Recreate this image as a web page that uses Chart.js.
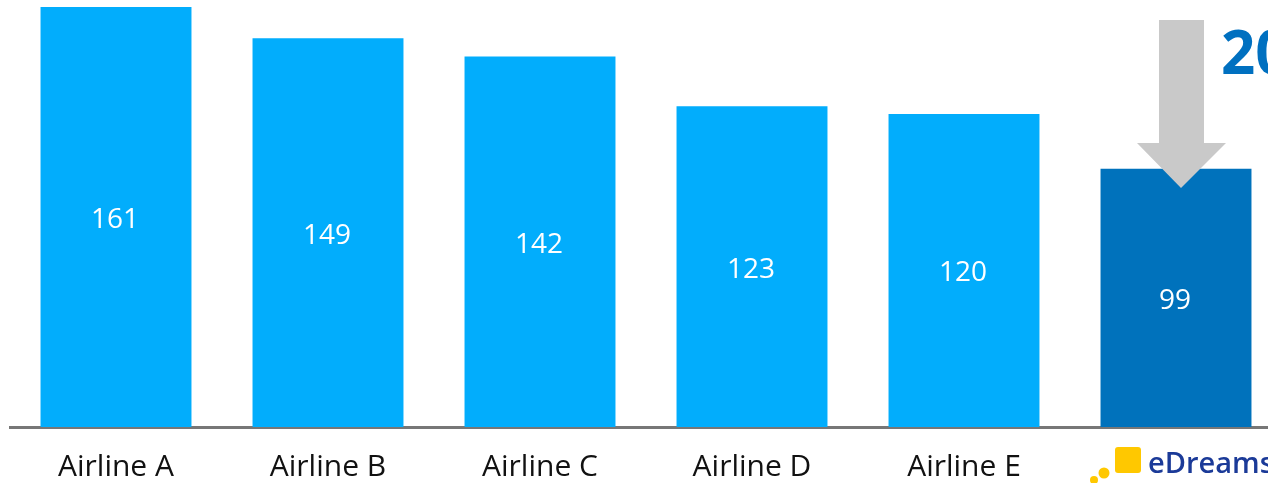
<!DOCTYPE html>
<html lang="en">
<head>
    <meta charset="UTF-8">
    <title>Average fare per airline</title>
    <script src="https://cdn.jsdelivr.net/npm/chart.js"></script>
    <style>
        html, body {
            margin: 0;
            padding: 0;
            background: #fff;
            overflow: hidden;
        }
        #wrap {
            position: relative;
            width: 1282px;
            height: 483px;
        }
    </style>
</head>
<body>
    <div id="wrap"><canvas id="fareChart"></canvas></div>

    <script>
        const airlines = ['Airline A', 'Airline B', 'Airline C', 'Airline D', 'Airline E', 'eDreams'];
        const fares = [161, 149, 142, 123, 120, 99];
        const barColors = ['#02adfc', '#02adfc', '#02adfc', '#02adfc', '#02adfc', '#0072bc'];
        const savingText = '20%';

        // white value in the middle of each bar
        const valueLabels = {
            id: 'valueLabels',
            afterDatasetsDraw(chart) {
                const ctx = chart.ctx;
                const meta = chart.getDatasetMeta(0);
                ctx.save();
                ctx.fillStyle = '#fff';
                ctx.font = '28px "Open Sans", sans-serif';
                ctx.textAlign = 'center';
                ctx.textBaseline = 'middle';
                meta.data.forEach((bar, i) => {
                    ctx.fillText(String(fares[i]), bar.x - 1, (bar.y + bar.base) / 2 + 3);
                });
                ctx.restore();
            }
        };

        // grey down arrow, the saving figure and the eDreams logo
        const extras = {
            id: 'extras',
            afterDraw(chart) {
                const ctx = chart.ctx;
                const meta = chart.getDatasetMeta(0);
                const last = meta.data[meta.data.length - 1];
                const cx = last.x + 5;

                ctx.save();
                ctx.fillStyle = '#c9c9c9';
                ctx.beginPath();
                ctx.moveTo(cx - 22, 20);
                ctx.lineTo(cx + 23, 20);
                ctx.lineTo(cx + 23, 143);
                ctx.lineTo(cx + 45, 143);
                ctx.lineTo(cx, 188);
                ctx.lineTo(cx - 44, 143);
                ctx.lineTo(cx - 22, 143);
                ctx.closePath();
                ctx.fill();

                ctx.fillStyle = '#0070c0';
                ctx.font = 'bold 60px "Open Sans", sans-serif';
                ctx.textAlign = 'left';
                ctx.textBaseline = 'alphabetic';
                ctx.fillText(savingText, cx + 40, 74);

                // logo squares
                ctx.fillStyle = '#ffc800';
                ctx.beginPath();
                ctx.roundRect(last.x - 61, 447, 26, 26, 3);
                ctx.fill();
                ctx.beginPath();
                ctx.arc(last.x - 72, 473, 5.5, 0, Math.PI * 2);
                ctx.fill();
                ctx.beginPath();
                ctx.arc(last.x - 82, 480, 4, 0, Math.PI * 2);
                ctx.fill();

                ctx.fillStyle = '#1b3a98';
                ctx.font = '600 29px "Open Sans", sans-serif';
                ctx.textBaseline = 'alphabetic';
                ctx.fillText(airlines[airlines.length - 1], last.x - 28, 473);
                ctx.restore();
            }
        };

        const ctx = document.getElementById('fareChart').getContext('2d');
        new Chart(ctx, {
            type: 'bar',
            data: {
                labels: airlines,
                datasets: [{
                    data: fares,
                    backgroundColor: barColors,
                    borderWidth: 0,
                    barPercentage: 0.712,
                    categoryPercentage: 1
                }]
            },
            options: {
                responsive: true,
                maintainAspectRatio: false,
                animation: false,
                events: [],
                layout: { padding: { left: 10, right: 0, top: 0, bottom: 0 } },
                plugins: {
                    legend: { display: false },
                    tooltip: { enabled: false }
                },
                scales: {
                    x: {
                        grid: { display: false, drawTicks: false },
                        border: { display: true, color: '#777', width: 3 },
                        ticks: {
                            color: '#111',
                            font: { family: '"Open Sans", sans-serif', size: 30 },
                            padding: 22,
                            maxRotation: 0,
                            autoSkip: false,
                            callback: (v, i) => (i === airlines.length - 1 ? '' : airlines[i])
                        },
                        afterFit: s => { s.height = 56; }
                    },
                    y: {
                        display: false,
                        min: 0,
                        max: 163.7
                    }
                }
            },
            plugins: [valueLabels, extras]
        });
    </script>
</body>
</html>
